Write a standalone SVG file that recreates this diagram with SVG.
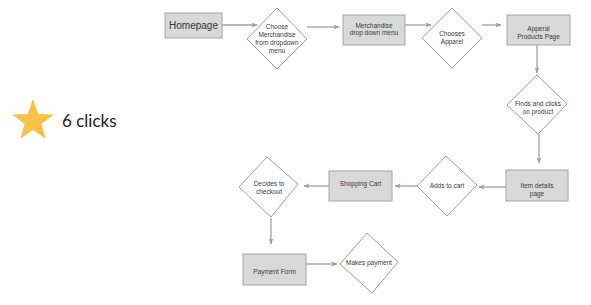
<svg xmlns="http://www.w3.org/2000/svg" width="591" height="305" viewBox="0 0 591 305">
<style>
.box{fill:#d9d9d9;stroke:#a6a6a6;stroke-width:1}
.dia{fill:#ffffff;stroke:#9a9a9a;stroke-width:1}
.t{font-family:"Liberation Sans",Arial,sans-serif;font-size:6.5px;fill:#3a3a3a;text-anchor:middle}
.c{stroke:#a0a0a0;stroke-width:1.3;fill:none;marker-end:url(#ah)}
</style>
<defs>
<marker id="ah" viewBox="0 0 10 10" refX="9" refY="5" markerWidth="7" markerHeight="6" markerUnits="userSpaceOnUse" orient="auto">
<path d="M0,1 L10,5 L0,9 L2,5 Z" fill="#a0a0a0"/>
</marker>
</defs>
<rect width="591" height="305" fill="#ffffff"/>
<g id="rating">
<polygon points="33,99 38.2,114 54,114.4 41.4,123.9 45.9,139 33,130 20.1,139 24.6,123.9 12,114.4 27.8,114" fill="#F8C246"/>
<text x="62" y="127" font-family="Lato,'Open Sans',sans-serif" font-size="17" fill="#222">6 clicks</text>
</g>
<g id="connectors">
<path class="c" d="M222,25 L257,25"/>
<path class="c" d="M307,27 L339,27"/>
<path class="c" d="M405,25 L431,25"/>
<path class="c" d="M482,25 L501,25"/>
<path class="c" d="M537,45 L537,73"/>
<path class="c" d="M539,134 L539,163"/>
<path class="c" d="M506,187 L479,187"/>
<path class="c" d="M417,186 L395,186"/>
<path class="c" d="M329,186 L304,186"/>
<path class="c" d="M271,218 L271,244"/>
<path class="c" d="M306,264 L337,264"/>
</g>
<g id="n-homepage">
<rect class="box" x="165" y="13" width="57" height="25"/>
<text x="193.5" y="29" font-family="'Liberation Sans',Arial,sans-serif" font-size="10" fill="#333" text-anchor="middle">Homepage</text>
</g>
<g id="n-choose-merch">
<polygon class="dia" points="277,8 307,39 277,69 247,39"/>
<text class="t" x="277" y="28.5">Choose</text>
<text class="t" x="277" y="36.5">Merchandise</text>
<text class="t" x="277" y="44.5">from dropdown</text>
<text class="t" x="277" y="52.5">menu</text>
</g>
<g id="n-merch-menu">
<rect class="box" x="343" y="15" width="62" height="30"/>
<text class="t" x="374" y="28">Merchandise</text>
<text class="t" x="374" y="35">drop down menu</text>
</g>
<g id="n-chooses-apparel">
<polygon class="dia" points="452,8 482,38 452,68 422,38"/>
<text class="t" x="452" y="36">Chooses</text>
<text class="t" x="452" y="44">Apparel</text>
</g>
<g id="n-apparel-page">
<rect class="box" x="507" y="15" width="63" height="30"/>
<text class="t" x="538.5" y="31">Apperal</text>
<text class="t" x="538.5" y="39">Products Page</text>
</g>
<g id="n-finds-clicks">
<polygon class="dia" points="537,75 567,104 538,134 507,105"/>
<text class="t" x="538" y="106">Finds and clicks</text>
<text class="t" x="538" y="114">on product</text>
</g>
<g id="n-item-details">
<rect class="box" x="506" y="170" width="62" height="31"/>
<text class="t" x="537" y="188">Item details</text>
<text class="t" x="537" y="196">page</text>
</g>
<g id="n-adds-cart">
<polygon class="dia" points="446,156 477,185 447,216 417,186"/>
<text class="t" x="447" y="188">Adds to cart</text>
</g>
<g id="n-shopping-cart">
<rect class="box" x="329" y="171" width="63" height="30"/>
<text class="t" x="360.5" y="186">Shopping Cart</text>
</g>
<g id="n-decides-checkout">
<polygon class="dia" points="267,157 298,184 271,217 239,187"/>
<text class="t" x="269" y="186">Decides to</text>
<text class="t" x="269" y="194">checkout</text>
</g>
<g id="n-payment-form">
<rect class="box" x="243" y="254" width="63" height="31"/>
<text class="t" x="274.5" y="274">Payment Form</text>
</g>
<g id="n-makes-payment">
<polygon class="dia" points="367,233 398,262 372,293 340,264"/>
<text class="t" x="369" y="265">Makes payment</text>
</g>
</svg>
